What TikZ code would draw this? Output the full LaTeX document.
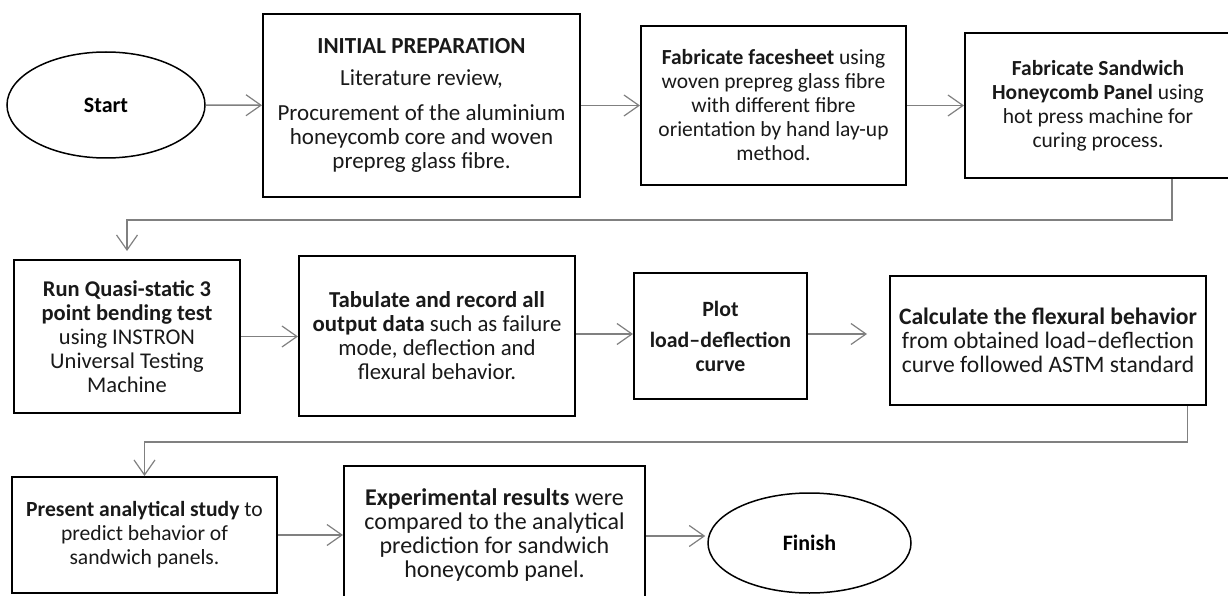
\documentclass[tikz,border=0pt]{standalone}
\usepackage{fontspec}
\setmainfont{Carlito}
\usepackage{tikz}
\usetikzlibrary{shapes.geometric,arrows.meta}

\begin{document}
\begin{tikzpicture}[x=1pt,y=-1pt,
  stage/.style={draw,line width=2pt,align=center,inner sep=0pt,text=black!90,
    font=\fontsize{#1}{24}\selectfont},
  stage/.default=21.5,
  terminal/.style={draw,ellipse,line width=1.5pt,inner sep=0pt,
    font=\fontsize{22}{24}\selectfont\bfseries},
  flow/.style={draw=black!50,line width=1.5pt,
    -{Straight Barb[length=15pt,width=21pt,line width=1.2pt]}}]
\useasboundingbox (0,0) rectangle (1228,596);

\draw (106,105) node[terminal,minimum width=198pt,minimum height=106pt] (start) {Start} ;

\draw (421.5,105.5) node[stage=23,minimum width=317pt,minimum height=183pt] (prep)
  {\textbf{INITIAL PREPARATION}\\[8pt] Literature review,\\[11pt] Procurement of the aluminium\\ honeycomb core and woven\\ prepreg glass fibre.} ;
\draw[flow] (start) -- (prep) ;

\draw (773.5,105.5) node[stage,minimum width=265pt,minimum height=159pt] (face)
  {\textbf{Fabricate facesheet} using\\ woven prepreg glass fibre\\ with different fibre\\ orientation by hand lay-up\\ method.} ;
\draw[flow] (prep) -- (face) ;

\draw (1098,105.5) node[stage,minimum width=266pt,minimum height=145pt] (panel)
  {\textbf{Fabricate Sandwich}\\ \textbf{Honeycomb Panel} using\\ hot press machine for\\ curing process.} ;
\draw[flow] (face) -- (panel) ;

\draw (127,336.5) node[stage=22.5,minimum width=226pt,minimum height=153pt] (test)
  {\textbf{Run Quasi-static 3}\\ \textbf{point bending test}\\ using INSTRON\\ Universal Testing\\ Machine} ;
\coordinate (turnA) at (1172,220) ;
\draw[flow,shorten >=8pt] (panel.south -| turnA) -- (turnA) -| (test.north) ;

\draw (437,336) node[stage=22.8,minimum width=276pt,minimum height=160pt] (tab)
  {\textbf{Tabulate and record all}\\ \textbf{output data} such as failure\\ mode, deflection and\\ flexural behavior.} ;
\draw[flow] (test.east) -- (test.east -| tab.west) ;

\draw (720.5,336) node[stage=21.8,minimum width=173pt,minimum height=126pt] (plot)
  {\textbf{Plot}\\[7pt] \textbf{load--deflection}\\ \textbf{curve}} ;
\draw[flow] ([yshift=2pt]tab.east |- plot.east) -- ([yshift=2pt]plot.west) ;

\draw (1048,340.5) node[stage=23.6,minimum width=316pt,minimum height=129pt] (calc)
  {\textbf{Calculate the flexural behavior}\\ from obtained load--deflection\\ curve followed ASTM standard} ;
\draw[flow,shorten >=22pt] ([yshift=2pt]plot.east) -- ([yshift=2pt]plot.east -| calc.west) ;

\draw (144.5,535) node[stage=21.6,minimum width=265pt,minimum height=116pt] (study)
  {\textbf{Present analytical study} to\\ predict behavior of\\ sandwich panels.} ;
\coordinate (turnB) at (1187.5,442) ;
\draw[flow] (calc.south -| turnB) -- (turnB) -| (study.north) ;

\draw (494.5,535) node[stage=24,minimum width=301pt,minimum height=138pt] (exp)
  {\textbf{Experimental results} were\\ compared to the analytical\\ prediction for sandwich\\ honeycomb panel.} ;
\draw[flow] (study) -- (exp) ;

\draw (809.5,543) node[terminal,minimum width=203pt,minimum height=100pt] (finish) {Finish} ;
\draw[flow,shorten >=2pt] ([yshift=-1pt]exp.east) -- ([yshift=-1pt]exp.east -| finish.west) ;

\end{tikzpicture}
\end{document}
